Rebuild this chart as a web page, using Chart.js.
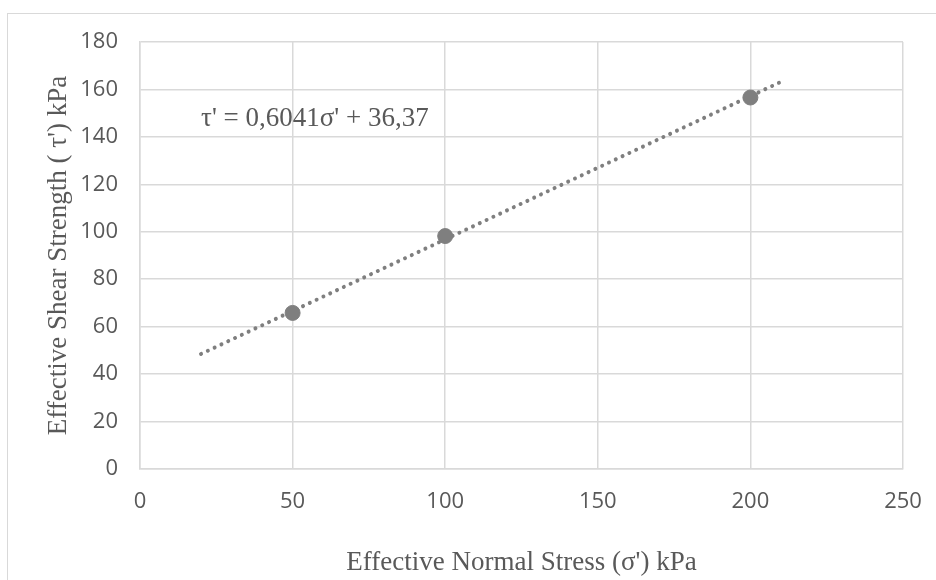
<!DOCTYPE html>
<html>
<head>
<meta charset="utf-8">
<script src="https://cdn.jsdelivr.net/npm/chart.js@4/dist/chart.umd.min.js"></script>
<style>
  html, body { margin: 0; padding: 0; background: #fff; overflow: hidden; }
  #wrap { position: relative; width: 936px; height: 580px; }
  #frame { position: absolute; left: 7px; top: 13px; width: 1000px; height: 1000px;
           border-left: 1.5px solid #d9d9d9; border-top: 1.5px solid #d9d9d9; }
  canvas { position: absolute; left: 0; top: 0; }
</style>
</head>
<body>
<div id="wrap">
  <div id="frame"></div>
  <canvas id="shearChart" width="936" height="580"></canvas>
</div>
<script>
// measured points
const normalStress = [50, 100, 200];
const shearStrength = [65.8, 98.2, 156.6];

// linear trendline, drawn from 20 to 210
const trendX = [20, 210];
const trendY = [48.5, 163.2];
const trendLabel = "τ' = 0,6041σ' + 36,37";
const labelAt = [20, 147.6];

const xTicks = [0, 50, 100, 150, 200, 250];
const yTicks = [0, 20, 40, 60, 80, 100, 120, 140, 160, 180];

const textColor = '#595959';
const gridColor = '#d9d9d9';
const markColor = '#7f7f7f';

// equation text next to the trendline
const equationLabel = {
  id: 'equationLabel',
  afterDatasetsDraw(chart) {
    const { ctx, scales } = chart;
    ctx.save();
    ctx.font = '27px "Liberation Serif", "Times New Roman", serif';
    ctx.fillStyle = textColor;
    ctx.textAlign = 'left';
    ctx.textBaseline = 'middle';
    ctx.fillText(trendLabel, scales.x.getPixelForValue(labelAt[0]), scales.y.getPixelForValue(labelAt[1]));
    ctx.restore();
  }
};

new Chart(document.getElementById('shearChart').getContext('2d'), {
  type: 'scatter',
  data: {
    datasets: [
      {
        label: 'Trend',
        type: 'line',
        data: trendX.map((x, i) => ({ x: x, y: trendY[i] })),
        borderColor: markColor,
        borderWidth: 4,
        borderDash: [0.01, 7.5],
        borderCapStyle: 'round',
        pointRadius: 0,
        fill: false,
        order: 2
      },
      {
        label: 'Data',
        data: normalStress.map((x, i) => ({ x: x, y: shearStrength[i] })),
        backgroundColor: markColor,
        borderColor: markColor,
        pointRadius: 7.5,
        order: 1
      }
    ]
  },
  options: {
    responsive: false,
    animation: false,
    layout: { padding: { top: 42, right: 33, bottom: 0, left: 0 } },
    plugins: {
      legend: { display: false },
      tooltip: { enabled: false }
    },
    scales: {
      x: {
        type: 'linear',
        min: 0,
        max: 250,
        afterBuildTicks: s => { s.ticks = xTicks.map(v => ({ value: v })); },
        afterFit: s => { s.height = 111; s.paddingLeft = 0; s.paddingRight = 0; },
        grid: { color: gridColor, lineWidth: 1.5, drawTicks: false },
        border: { color: gridColor, width: 1.5 },
        ticks: {
          color: textColor,
          padding: 20,
          font: { family: '"Open Sans", sans-serif', size: 22 }
        },
        title: {
          display: true,
          text: "Effective Normal Stress (σ') kPa",
          color: textColor,
          padding: { top: 0, bottom: 1 },
          font: { family: '"Liberation Serif", "Times New Roman", serif', size: 27 }
        }
      },
      y: {
        min: 0,
        max: 180,
        afterBuildTicks: s => { s.ticks = yTicks.map(v => ({ value: v })); },
        afterFit: s => { s.width = 140; s.paddingTop = 0; s.paddingBottom = 0; },
        grid: { color: gridColor, lineWidth: 1.5, drawTicks: false },
        border: { color: gridColor, width: 1.5 },
        ticks: {
          color: textColor,
          padding: 22,
          font: { family: '"Open Sans", sans-serif', size: 22 }
        },
        title: {
          display: true,
          text: "Effective Shear Strength ( τ') kPa",
          color: textColor,
          padding: { top: 43, bottom: 0 },
          font: { family: '"Liberation Serif", "Times New Roman", serif', size: 27 }
        }
      }
    }
  },
  plugins: [equationLabel]
});
</script>
</body>
</html>
